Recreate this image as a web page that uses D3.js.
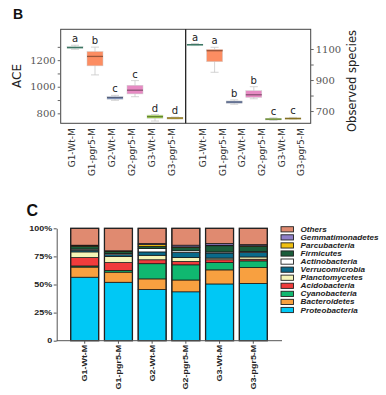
<!DOCTYPE html>
<html>
<head>
<meta charset="utf-8">
<script src="https://cdn.jsdelivr.net/npm/d3@7"></script>
<style>
  body { margin: 0; background: #fff; }
  svg { display: block; }
</style>
</head>
<body>
<svg width="386" height="395"></svg>
<script>
// groups shared by both panels
const groups = ['G1-Wt-M', 'G1-pgr5-M', 'G2-Wt-M', 'G2-pgr5-M', 'G3-Wt-M', 'G3-pgr5-M'];

// panel B box stats: [min, q1, median, q3, max]
const aceStats = [
  [1282, 1289, 1295, 1301, 1312],
  [1089, 1157, 1228, 1265, 1298],
  [898, 906, 918, 927, 935],
  [925, 946, 974, 1011, 1046],
  [742, 763, 775, 787, 790],
  [760, 762, 765, 768, 772]
];
const obsStats = [
  [1122, 1125, 1128, 1131, 1135],
  [950, 1018, 1089, 1098, 1111],
  [744, 750, 758, 765, 772],
  [779, 788, 805, 831, 857],
  [640, 643, 648, 652, 656],
  [646, 648, 652, 656, 659]
];
const aceLetters = ['a', 'b', 'c', 'c', 'd', 'd'];
const obsLetters = ['a', 'a', 'b', 'b', 'c', 'c'];
const aceTicks = [800, 900, 1000, 1100, 1200, 1300];
const aceLabels = [800, 1000, 1200];
const obsTicks = [700, 800, 900, 1000, 1100];
const obsLabels = [700, 900, 1100];
const groupColors = ['#66c2a5', '#fc8d62', '#8da0cb', '#e78ac3', '#a6d854', '#d9b836'];

// panel C relative abundance (%), bottom to top
const phyla = ['Proteobacteria', 'Bacteroidetes', 'Cyanobacteria', 'Acidobacteria', 'Planctomycetes',
  'Verrucomicrobia', 'Actinobacteria', 'Firmicutes', 'Parcubacteria', 'Gemmatimonadetes', 'Others'];
const proteobacteria   = [56.5, 52, 45.5, 43.5, 50.5, 51];
const bacteroidetes    = [9, 9, 9.5, 10.5, 12.5, 14];
const cyanobacteria    = [1, 1.5, 13.5, 13.5, 6.5, 6];
const acidobacteria    = [7.5, 7, 3.5, 3, 2.5, 1.5];
const planctomycetes   = [5, 5.5, 4, 3.5, 1.5, 2];
const verrucomicrobia  = [1.5, 1.5, 3, 4.5, 4.5, 4];
const actinobacteria   = [1, 1, 3, 1.5, 1, 1];
const firmicutes       = [2.5, 2, 2, 3, 5.5, 4.5];
const parcubacteria    = [0.5, 0.3, 1.5, 0.5, 0.5, 0.5];
const gemmatimonadetes = [0.5, 0.2, 1, 1.5, 1.5, 1];
const others           = [15, 20, 13.5, 15, 13.5, 14.5];
const phylumColors = ['#00c8f5', '#f8a040', '#10b870', '#f03c3c', '#f5f5b8',
  '#0a6a8a', '#ffffff', '#1a5c3a', '#f0c010', '#8f7fc8', '#e08a70'];
const pctTicks = [0, 25, 50, 75, 100];

const svg = d3.select('svg');

// ---------- panel B ----------
const bTop = 29.3, bBottom = 123.3, bLeft = 60.7, bMid = 185.7, bRight = 310.7;

svg.append('text').attr('x', 13).attr('y', 18.5).text('B')
  .attr('font-family', 'Liberation Sans, Arial, sans-serif').attr('font-weight', 'bold')
  .attr('font-size', 14).attr('fill', '#111');

const yAce = d3.scaleLinear().domain([725, 1432]).range([bBottom, bTop]);
const yObs = d3.scaleLinear().domain([621, 1227]).range([bBottom, bTop]);
const xAce = d3.scalePoint().domain(groups).range([75, 175]);
const xObs = d3.scalePoint().domain(groups).range([195, 293]);

function drawBoxes(stats, letters, x, y, labelShift) {
  const g = svg.append('g');
  const bw = 16;
  stats.forEach(function (s, i) {
    const cx = x(groups[i]);
    const col = groupColors[i];
    // whisker
    g.append('line').attr('x1', cx).attr('x2', cx).attr('y1', y(s[0])).attr('y2', y(s[4]))
      .attr('stroke', '#c8c8c8').attr('stroke-width', 0.8);
    [s[0], s[4]].forEach(function (v) {
      g.append('line').attr('x1', cx - 4).attr('x2', cx + 4).attr('y1', y(v)).attr('y2', y(v))
        .attr('stroke', '#c8c8c8').attr('stroke-width', 0.8);
    });
    g.append('rect').attr('x', cx - bw / 2).attr('width', bw)
      .attr('y', y(s[3])).attr('height', Math.max(1.5, y(s[1]) - y(s[3])))
      .attr('fill', col).attr('stroke', '#d0d0d0').attr('stroke-width', 0.5);
    g.append('line').attr('x1', cx - bw / 2).attr('x2', cx + bw / 2)
      .attr('y1', y(s[2])).attr('y2', y(s[2]))
      .attr('stroke', d3.color(col).darker(1.4)).attr('stroke-width', 1.3);
    g.append('text').attr('x', cx).attr('y', y(s[4]) - 3).text(letters[i])
      .attr('text-anchor', 'middle').attr('font-family', 'DejaVu Sans, sans-serif')
      .attr('font-size', 10).attr('fill', '#222');
    // x label
    g.append('text').attr('transform', 'translate(' + (cx + labelShift) + ',' + (bBottom + 5) + ') rotate(-90)')
      .attr('dy', '0.35em').attr('text-anchor', 'end').text(groups[i])
      .attr('font-family', 'DejaVu Sans, sans-serif').attr('font-size', 9).attr('fill', '#333');
  });
}
drawBoxes(aceStats, aceLetters, xAce, yAce, -3.5);
drawBoxes(obsStats, obsLetters, xObs, yObs, 8);

// frame
svg.append('rect').attr('x', bLeft).attr('y', bTop).attr('width', bRight - bLeft).attr('height', bBottom - bTop)
  .attr('fill', 'none').attr('stroke', '#444').attr('stroke-width', 1);
svg.append('line').attr('x1', bMid).attr('x2', bMid).attr('y1', bTop).attr('y2', bBottom)
  .attr('stroke', '#111').attr('stroke-width', 1.2);

const axL = svg.append('g').attr('transform', 'translate(' + bLeft + ',0)')
  .call(d3.axisLeft(yAce).tickValues(aceTicks).tickSize(3)
    .tickFormat(d => aceLabels.includes(d) ? d : ''));
const axR = svg.append('g').attr('transform', 'translate(' + bRight + ',0)')
  .call(d3.axisRight(yObs).tickValues(obsTicks).tickSize(3)
    .tickFormat(d => obsLabels.includes(d) ? d : ''));
[axL, axR].forEach(function (ax) {
  ax.select('.domain').remove();
  ax.selectAll('line').attr('stroke', '#666');
  ax.selectAll('text').attr('font-family', 'DejaVu Serif, serif').attr('font-size', 10).attr('fill', '#555');
});
axL.selectAll('text').attr('x', -5);
axR.selectAll('text').attr('x', 5);

svg.append('text').attr('transform', 'translate(21,76) rotate(-90)').attr('text-anchor', 'middle')
  .text('ACE').attr('font-family', 'DejaVu Sans, sans-serif').attr('font-size', 12).attr('fill', '#222');
svg.append('text').attr('transform', 'translate(356,81) rotate(-90)').attr('text-anchor', 'middle')
  .text('Observed species').attr('font-family', 'DejaVu Sans, sans-serif').attr('font-size', 11.5).attr('fill', '#222');

// ---------- panel C ----------
const cTop = 228.3, cBottom = 340.7, cLeft = 56.7, cRight = 282;
const stretch = 1.28;
const cFont = 'Liberation Sans, Arial, sans-serif';

svg.append('text').attr('x', 26.5).attr('y', 215.5).text('C')
  .attr('font-family', cFont).attr('font-weight', 'bold').attr('font-size', 16).attr('fill', '#111');

const series = [proteobacteria, bacteroidetes, cyanobacteria, acidobacteria, planctomycetes,
  verrucomicrobia, actinobacteria, firmicutes, parcubacteria, gemmatimonadetes, others];
const table = groups.map(function (g, i) {
  const row = { group: g };
  phyla.forEach(function (p, j) { row[p] = series[j][i]; });
  return row;
});
const stacked = d3.stack().keys(phyla)(table);

const xC = d3.scaleBand().domain(groups).range([66, 272]).paddingInner(0.17).paddingOuter(0.14);
const yC = d3.scaleLinear().domain([0, 100]).range([cBottom, cTop]);

const layers = svg.append('g').selectAll('g').data(stacked).join('g')
  .attr('fill', (d, i) => phylumColors[i]);
layers.selectAll('rect').data(d => d).join('rect')
  .attr('x', d => xC(d.data.group)).attr('width', xC.bandwidth())
  .attr('y', d => yC(d[1])).attr('height', d => yC(d[0]) - yC(d[1]))
  .attr('stroke', '#111').attr('stroke-width', 0.7);
svg.append('g').selectAll('rect').data(groups).join('rect')
  .attr('x', d => xC(d)).attr('width', xC.bandwidth())
  .attr('y', yC(100)).attr('height', yC(0) - yC(100))
  .attr('fill', 'none').attr('stroke', '#222').attr('stroke-width', 1.3);

// y axis
const axC = svg.append('g').attr('transform', 'translate(' + cLeft + ',0)')
  .call(d3.axisLeft(yC).tickValues(pctTicks).tickSize(3).tickSizeOuter(0)
    .tickFormat(d => d === 0 ? '0' : d + '%'));
axC.select('.domain').attr('stroke', '#555');
axC.selectAll('line').attr('stroke', '#555');
axC.selectAll('text').attr('x', null)
  .attr('transform', 'translate(-4.5,0) scale(' + stretch + ',1)')
  .attr('font-family', cFont).attr('font-weight', 'bold').attr('font-size', 7).attr('fill', '#222');

// x axis
svg.append('line').attr('x1', cLeft).attr('x2', cRight).attr('y1', cBottom).attr('y2', cBottom)
  .attr('stroke', '#555').attr('stroke-width', 1);
const xLab = svg.append('g').selectAll('g').data(groups).join('g')
  .attr('transform', d => 'translate(' + (xC(d) + xC.bandwidth() / 2) + ',' + cBottom + ')');
xLab.append('line').attr('y1', 0).attr('y2', 3).attr('stroke', '#555');
xLab.append('text').attr('transform', 'translate(0,4) rotate(-90) scale(' + stretch + ',1)')
  .attr('dy', '0.35em').attr('text-anchor', 'end').text(d => d)
  .attr('font-family', cFont).attr('font-weight', 'bold').attr('font-size', 7).attr('fill', '#222');

// legend (Others on top)
const legendOrder = phyla.slice().reverse();
const leg = svg.append('g').selectAll('g').data(legendOrder).join('g')
  .attr('transform', (d, i) => 'translate(281,' + (229.3 + i * 8.07) + ')');
leg.append('rect').attr('x', 0).attr('y', -2.6).attr('width', 12.5).attr('height', 5.2)
  .attr('fill', d => phylumColors[phyla.indexOf(d)]).attr('stroke', '#222').attr('stroke-width', 0.9);
leg.append('text').attr('transform', 'translate(19.5,0) scale(1.12,1)').attr('dy', '0.35em').text(d => d)
  .attr('font-family', cFont).attr('font-weight', 'bold').attr('font-style', 'italic')
  .attr('font-size', 7.3).attr('fill', '#222');
</script>
</body>
</html>
